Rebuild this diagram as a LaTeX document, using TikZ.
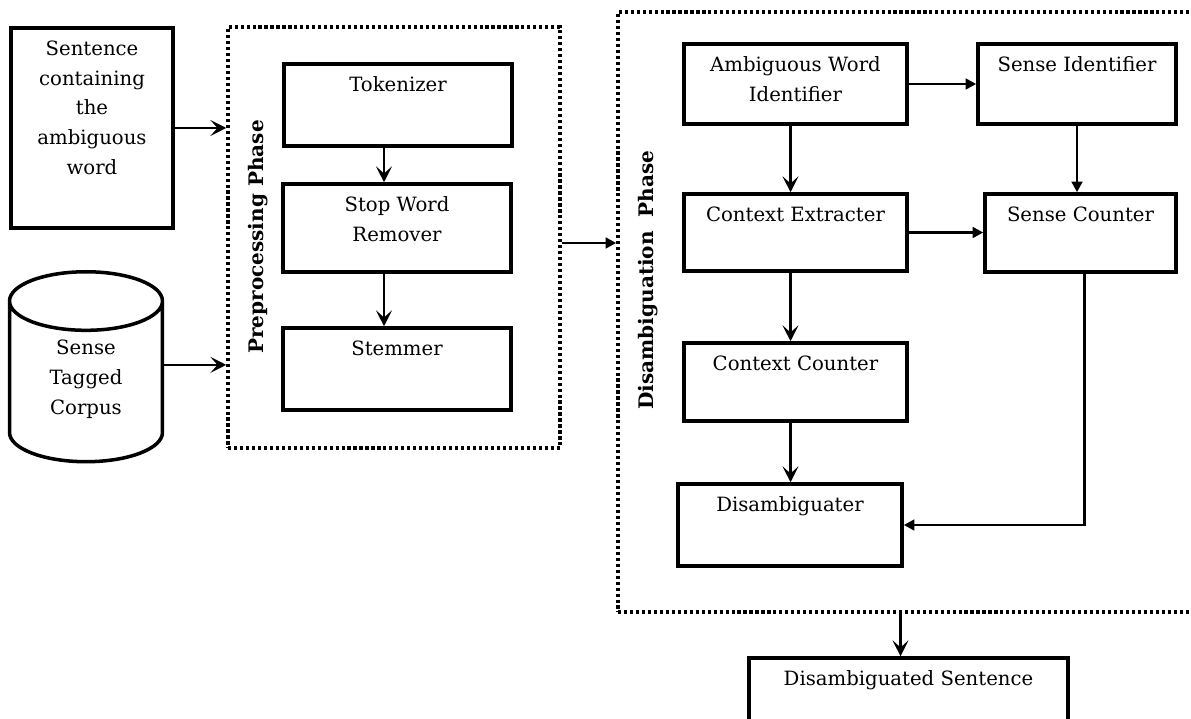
\documentclass[tikz,border=0pt]{standalone}
\usepackage{fontspec}
\setmainfont{DejaVu Serif}
\usetikzlibrary{arrows.meta,fit,positioning,shapes.geometric}
\tikzset{
  box/.style={draw, line width=2pt, inner sep=0pt},
  txt/.style={font=\fontsize{11.2}{17}\selectfont, align=center, inner sep=0pt},
  phase/.style={font=\bfseries\fontsize{11.4}{13}\selectfont, rotate=90, inner sep=0pt},
  group/.style={draw, line width=2pt, dash pattern=on 1.8pt off 1.6pt, inner sep=0pt},
  flow/.style={line width=1.5pt, -{Stealth[length=9pt,width=9pt,inset=4pt]}},
  feed/.style={line width=1.5pt, -{Triangle[length=6pt,width=6pt]}},
}
\begin{document}
\begin{tikzpicture}[x=0.02cm, y=-0.02cm]
\useasboundingbox (0,0) rectangle (1191,719);
% inputs
\node[box, fit={(11,28) (173,228)}] (sent) {};
\node[draw, line width=2pt, cylinder, shape border rotate=90, aspect=5,
      minimum width=3.06cm, minimum height=3.8cm, anchor=north] (corp) at (86,270) {};
\node[txt] (corptext) at (86,379) {Sense\\Tagged\\Corpus};
% preprocessing phase
\node[group, fit={(228,27) (560,448)}] (pre) {};
\node[phase] (pretext) at (258,237) {Preprocessing Phase};
\node[box, fit={(284,64) (512,146)}] (tok) {};
\node[box, fit={(283,184) (511,272)}] (swr) {};
\node[box, fit={(283,328) (511,410)}] (stem) {};
% disambiguation phase
\node[group, fit={(618,12) (1210,612)}] (dis) {};
\node[phase] (distext) at (648,280) {Disambiguation\ \ Phase};
\node[box, fit={(684,44) (907,124)}] (awi) {};
\node[box, fit={(978,44) (1176,124)}] (si) {};
\node[box, fit={(684,194) (907,271)}] (ce) {};
\node[box, fit={(985,194) (1176,272)}] (sc) {};
\node[box, fit={(684,343) (907,421)}] (cc) {};
\node[box, fit={(678,484) (902,566)}] (dam) {};
% output
\node[box, fit={(749,658) (1068,740)}] (ds) {};
% box texts
\foreach \b/\t in {sent/{Sentence\\containing\\the\\ambiguous\\word}, tok/Tokenizer,
    swr/{Stop Word\\Remover}, stem/Stemmer, awi/{Ambiguous Word\\Identifier},
    si/Sense Identifier, ce/Context Extracter, sc/Sense Counter,
    cc/Context Counter, dam/Disambiguater, ds/Disambiguated Sentence}
  \node[txt, below=0.28cm of \b.north] (\b-text) {\t};
% connectors
\draw[flow] (sent.east) -- (sent.east -| pre.west);
\draw[flow] ([yshift=0.46cm]corp.east) -- ([yshift=0.46cm]corp.east -| pre.west);
\draw[flow] ([xshift=-0.28cm]tok.south) -- ([xshift=-0.28cm]tok.south |- swr.north);
\draw[flow] ([xshift=-0.28cm]tok.south |- swr.south) -- ([xshift=-0.28cm]tok.south |- stem.north);
\draw[feed] ([yshift=-0.11cm]pre.east) -- ([yshift=-0.11cm]pre.east -| dis.west);
\draw[feed] (awi.east) -- (awi.east -| si.west);
\draw[flow] ([xshift=-0.1cm]awi.south) -- ([xshift=-0.1cm]ce.north);
\draw[feed] (si.south) -- (si.south |- sc.north);
\draw[feed] (ce.east) -- (ce.east -| sc.west);
\draw[flow] ([xshift=-0.1cm]ce.south) -- ([xshift=-0.1cm]cc.north);
\draw[flow] ([xshift=-0.1cm]cc.south) -- ([xshift=-0.1cm]cc.south |- dam.north);
\draw[feed] ([xshift=0.08cm]sc.south) |- (dam.east);
\draw[flow] ([xshift=-0.16cm]ds.north |- dis.south) -- ([xshift=-0.16cm]ds.north);
\end{tikzpicture}
\end{document}
